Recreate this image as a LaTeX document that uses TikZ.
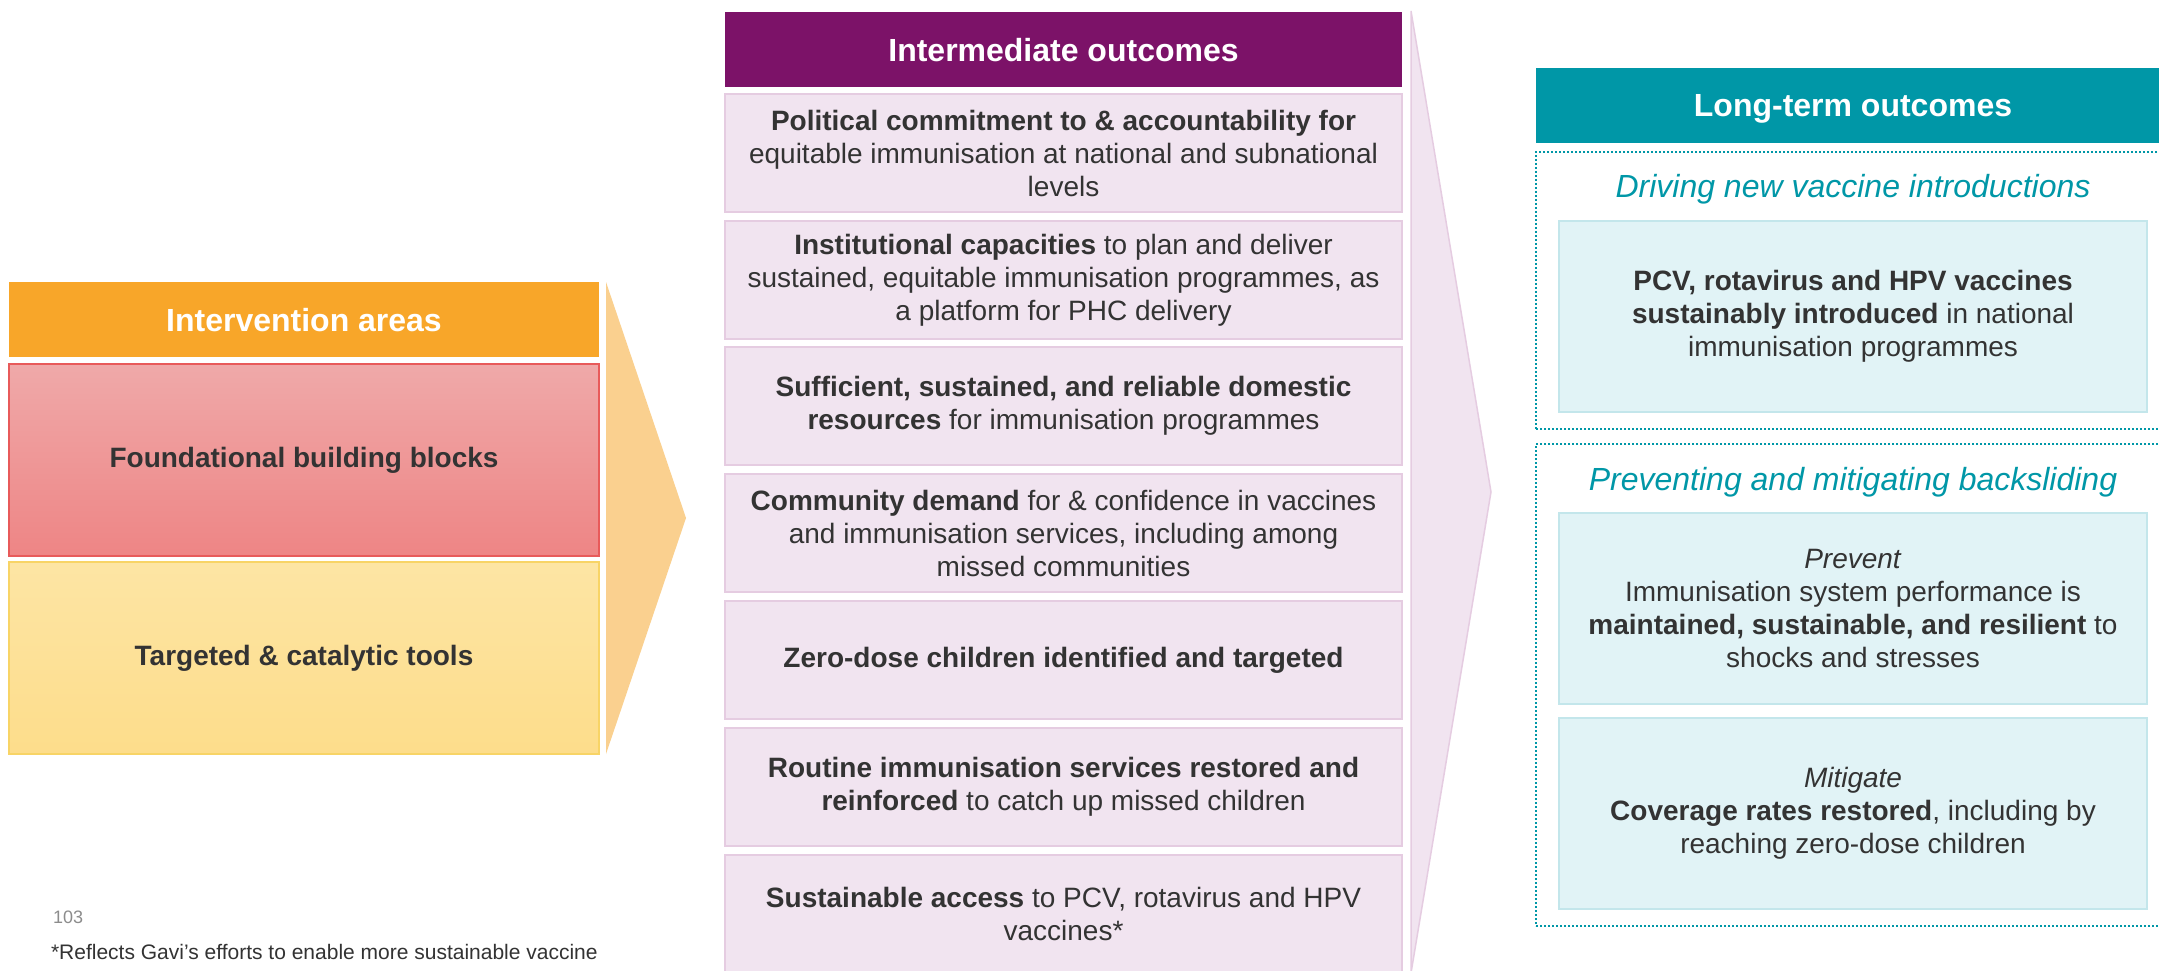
\documentclass[tikz,border=0pt]{standalone}
\usepackage{fontspec}
\setmainfont{Liberation Sans}
\usetikzlibrary{positioning}

\definecolor{ivorange}{HTML}{F8A629}
\definecolor{ivchevron}{HTML}{FAD08F}
\definecolor{fbtop}{HTML}{EFA9A9}
\definecolor{fbbot}{HTML}{EE8585}
\definecolor{fbline}{HTML}{E85A5A}
\definecolor{tctop}{HTML}{FDE5A4}
\definecolor{tcbot}{HTML}{FDDD8B}
\definecolor{tcline}{HTML}{F8D466}
\definecolor{iopurple}{HTML}{7C1268}
\definecolor{iofill}{HTML}{F1E4F0}
\definecolor{ioline}{HTML}{E5CCE1}
\definecolor{ltteal}{HTML}{0097A7}
\definecolor{ltfill}{HTML}{E1F3F6}
\definecolor{ltline}{HTML}{C3E6EB}
\definecolor{bodytext}{HTML}{333333}
\definecolor{pagenum}{HTML}{8C8C8C}

\begin{document}
\begin{tikzpicture}[x=1pt,y=-1pt,
    every node/.style={inner sep=0pt,outer sep=0pt},
    header/.style={anchor=north west,text=white,text depth=0pt,font=\fontsize{32}{38}\selectfont\bfseries},
    ivbox/.style={anchor=north west,minimum width=590pt,minimum height=192pt,line width=1.5pt,text=bodytext,font=\fontsize{28}{33}\selectfont\bfseries},
    iobox/.style={anchor=north west,draw=ioline,fill=iofill,line width=1.5pt,minimum width=677pt,minimum height=118pt,align=center,text=bodytext,font=\fontsize{28}{33}\selectfont},
    ltgroup/.style={anchor=north west,draw=ltteal,line width=2pt,dotted,minimum width=634pt},
    lttitle/.style={text=ltteal,text depth=0pt,font=\fontsize{32}{38}\selectfont\itshape},
    ltbox/.style={anchor=north west,draw=ltline,fill=ltfill,line width=1.5pt,minimum width=588pt,minimum height=191pt,align=center,text=bodytext,font=\fontsize{28}{33}\selectfont}]
    \useasboundingbox (0,0) rectangle (2159,971);
    \clip (0,0) rectangle (2159,971);
    \fill[white] (0,0) rectangle (2159,971);

    % intervention areas
    \node[header,fill=ivorange,minimum width=590pt,minimum height=75pt] (ivhead) at (9,282) {Intervention areas};
    \node[ivbox,draw=fbline,top color=fbtop,bottom color=fbbot] (ivfound) at (9,364) {Foundational building blocks};
    \node[ivbox,draw=tcline,top color=tctop,bottom color=tcbot] (ivtools) at (9,562) {Targeted \& catalytic tools};
    \fill[ivchevron] (606,282) -- (686,518) -- (606,754) -- cycle;

    % intermediate outcomes
    \fill[iofill,draw=ioline,line width=1.5pt] (1411,11) -- (1491,492) -- (1411,973) -- cycle;
    \node[header,fill=iopurple,minimum width=677pt,minimum height=75pt] (iohead) at (725,12) {Intermediate outcomes};
    \node[iobox] (io1) at (725,94) {\textbf{Political commitment to \& accountability for}\\equitable immunisation at national and subnational\\levels};
    \node[iobox] (io2) at (725,221) {\textbf{Institutional capacities} to plan and deliver\\sustained, equitable immunisation programmes, as\\a platform for PHC delivery};
    \node[iobox] (io3) at (725,347) {\textbf{Sufficient, sustained, and reliable domestic}\\\textbf{resources} for immunisation programmes};
    \node[iobox] (io4) at (725,474) {\textbf{Community demand} for \& confidence in vaccines\\and immunisation services, including among\\missed communities};
    \node[iobox] (io5) at (725,601) {\textbf{Zero-dose children identified and targeted}};
    \node[iobox] (io6) at (725,728) {\textbf{Routine immunisation services restored and}\\\textbf{reinforced} to catch up missed children};
    \node[iobox] (io7) at (725,855) {\textbf{Sustainable access} to PCV, rotavirus and HPV\\vaccines*};

    % long-term outcomes
    \node[header,fill=ltteal,minimum width=634pt,minimum height=75pt] (lthead) at (1536,68) {Long-term outcomes};
    \node[ltgroup,minimum height=277pt] (ltnew) at (1536,152) {};
    \node[ltgroup,minimum height=482pt] (ltback) at (1536,444) {};
    \node[lttitle] (ltnewtitle) at (1853,186) {Driving new vaccine introductions};
    \node[lttitle] (ltbacktitle) at (1853,479) {Preventing and mitigating backsliding};
    \node[ltbox] (ltpcv) at (1559,221) {\textbf{PCV, rotavirus and HPV vaccines}\\\textbf{sustainably introduced} in national\\immunisation programmes};
    \node[ltbox] (ltprevent) at (1559,513) {\textit{Prevent}\\Immunisation system performance is\\\textbf{maintained, sustainable, and resilient} to\\shocks and stresses};
    \node[ltbox] (ltmitigate) at (1559,718) {\textit{Mitigate}\\\textbf{Coverage rates restored}, including by\\reaching zero-dose children};

    % page number and footnote
    \node[anchor=base west,text=pagenum,font=\fontsize{18}{22}\selectfont] (pagenr) at (53,923) {103};
    \node[anchor=base west,text=bodytext,font=\fontsize{21}{25}\selectfont] (footnote) at (51,959) {*Reflects Gavi’s efforts to enable more sustainable vaccine};
\end{tikzpicture}
\end{document}
